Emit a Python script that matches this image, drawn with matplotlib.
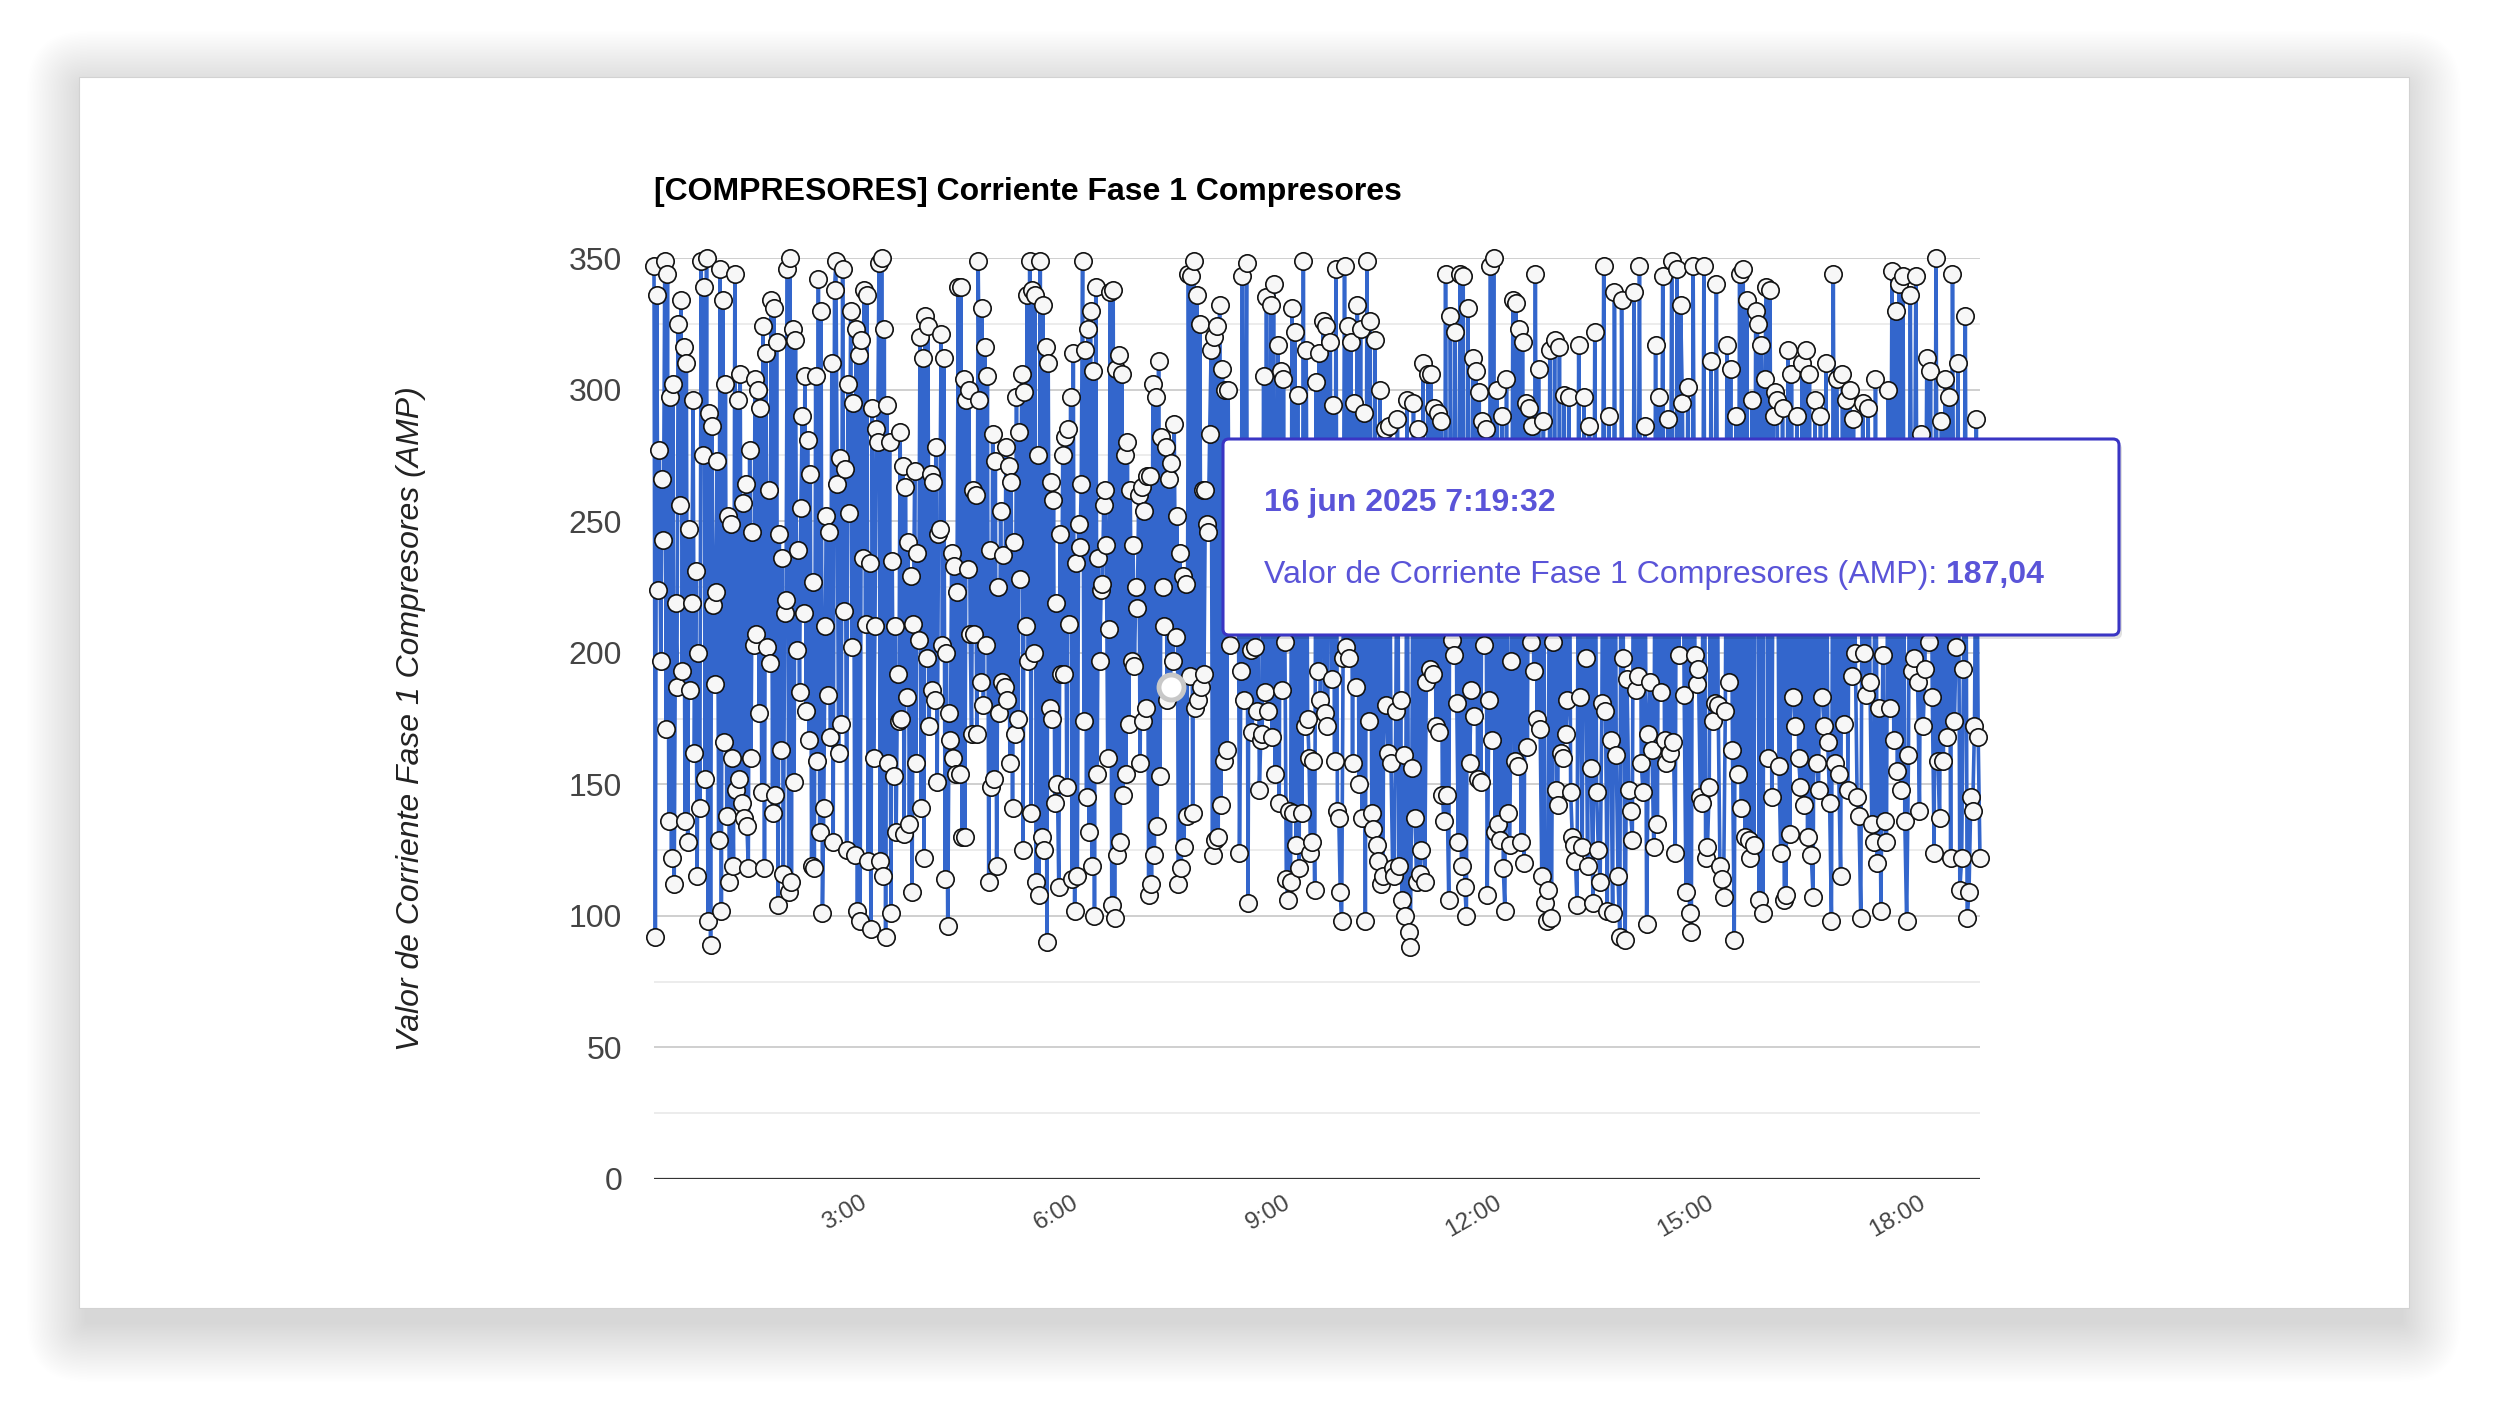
import numpy as np
import pandas as pd
import matplotlib
matplotlib.use("Agg")
import matplotlib.pyplot as plt
import matplotlib.dates as mdates
from matplotlib.patches import FancyBboxPatch, Rectangle
from matplotlib.ticker import MultipleLocator, FuncFormatter
from matplotlib.transforms import IdentityTransform

plt.rcParams['font.family'] = ['Liberation Sans', 'DejaVu Sans']

TITLE = "[COMPRESORES] Corriente Fase 1 Compresores"
Y_LABEL = "Valor de Corriente Fase 1 Compresores (AMP)"
DAY = "2025-06-16"

# readings (hours covered by each block)
block_hours = [0.0, 3.19, 6.47, 9.79, 13.11, 16.33, 18.80]

block1 = [347, 92, 336, 224, 277, 197, 266, 243,
          349, 171, 344, 136, 297, 122, 302, 112, 219, 187,
          325, 256, 334, 193, 316, 136, 310, 128, 247, 186, 219,
          296, 162, 231, 115, 200, 141, 349, 275,
          339, 152, 350, 98, 291, 89, 286, 218, 188, 223, 273, 129,
          346, 102, 334, 166, 302, 138, 252, 113, 249, 160, 119,
          344, 148, 296, 152, 306, 143, 257, 137, 264, 134, 118, 277, 160, 246, 203,
          304, 207, 300, 177, 293, 147, 324, 118, 314, 202, 262, 196,
          334, 139, 331, 146, 318, 104, 245, 163, 236, 116, 215, 220,
          346, 109, 350, 113, 323, 151, 319, 201, 239, 185, 255, 290, 215,
          305, 178, 281, 167, 268, 119, 227, 118, 305, 159, 342, 132, 330, 101,
          141, 210, 252, 184, 246, 168, 310, 128, 338, 349,
          264, 162, 274, 173, 346, 216, 270, 125, 302, 253, 330, 202,
          295, 123, 323, 102, 313, 98, 319, 236, 338, 211, 336, 121, 234, 95,
          293, 160, 210, 285, 280]

block2 = [348, 121, 350, 115, 323, 92, 294, 158, 280, 101, 235, 153, 210, 132, 192, 174,
          284, 175, 271, 131, 263, 183, 242, 135, 229, 109, 211, 269, 158, 238, 205,
          320, 141, 312, 122, 328, 198, 324, 172, 268, 186, 265, 182, 278, 151, 245, 247,
          321, 203, 312, 114, 200, 96, 177, 167, 238, 160, 233, 154, 223,
          339, 154, 339, 130, 304, 130, 296, 232, 300, 207, 169, 262, 207, 260, 169, 349, 296,
          189, 331, 180, 316, 203, 305, 113, 239, 149, 283, 152, 273, 119, 225, 177,
          254, 189, 237, 187, 278, 182, 271, 158, 265, 141, 242, 169, 297, 175,
          284, 228, 306, 125, 299, 210, 336, 197, 349, 139, 338, 200, 336, 113, 275, 108,
          349, 130, 332, 125, 316, 90, 310, 179, 265, 175, 258, 143, 219, 150, 111,
          245, 192, 275, 192, 282, 149, 285, 211, 297, 114, 314, 102, 234, 115, 249, 240, 264,
          349, 174, 315, 145, 323, 132, 330, 119, 307, 100, 339, 154, 236, 197, 224, 226,
          256, 262, 241, 160, 209]

block3 = [337, 104, 338, 99, 308, 123, 313, 128, 306, 146, 275, 154, 280, 173, 262, 197,
          241, 195, 225, 217,
          260, 158, 263, 174, 254, 179, 267, 108, 267, 112, 302, 123, 297, 134, 311, 153,
          282, 225, 210,
          278, 182, 266, 188, 272, 197, 287, 206, 252, 112, 238, 118, 229, 126, 226, 138,
          344, 191, 343, 139, 349, 179, 336, 182, 325, 187, 262, 192, 262, 249, 246, 283,
          315, 123, 320, 129, 324, 130, 332, 142, 308, 159, 300, 163, 300, 203, 277, 210,
          275, 246, 254, 256, 124, 193,
          343, 182, 230, 348, 105, 265, 201, 170, 215, 202, 178, 250, 148, 167, 169,
          305, 185, 335, 178, 240, 332, 168, 340, 154, 222, 317, 143, 307, 186, 304, 204,
          114, 106, 140, 113,
          331, 139, 322, 127, 298, 118, 258, 139, 349, 172, 315, 175, 160, 124, 128, 159, 110,
          303, 193, 314, 182, 236, 326, 177, 324, 172, 270, 318, 190, 294, 159, 346, 140,
          137, 109, 98, 198]

block4 = [347, 202, 324, 198, 318, 158, 295, 187, 332, 150, 323, 137, 291, 98,
          349, 174, 326, 139, 133, 319, 127, 121, 300, 112, 115, 285, 180, 162, 286, 158, 118, 115,
          178, 289, 119, 182, 106, 161, 100, 296, 94, 88, 156, 295, 137, 113, 285, 116, 125,
          310, 113, 189, 306, 194,
          306, 192, 293, 172, 291, 170, 288, 146, 136, 344, 146, 106, 328, 205, 199, 322, 181, 128,
          344, 119, 343, 111, 100, 331, 158, 186, 312, 176, 307, 152, 299, 151, 288, 203, 285, 108,
          182, 347, 167, 350, 132, 300, 135, 129, 290, 118, 102, 304, 139, 127, 197,
          334, 159, 333, 157, 323, 128, 318, 120, 295, 164, 293, 204, 286, 193, 344, 175, 308,
          171, 115, 288, 105, 98, 110,
          315, 99, 204, 319, 148, 142, 316, 162, 160, 298, 169, 182, 297, 147, 130, 127, 121, 104]

block5 = [317, 183, 126, 297, 198, 119, 286, 156, 105, 322, 147, 125, 113, 181,
          347, 178, 102, 290, 167, 101, 337, 161, 115, 92, 334, 198, 91, 190, 148, 140,
          129, 337, 186, 191, 347, 158, 147, 286, 97, 169, 189, 163, 126, 317,
          135, 297, 185, 343, 167, 158, 289, 162, 349, 166, 124, 346, 199, 332, 295,
          184, 109, 301, 101, 94, 347, 199, 188, 194, 145, 143, 347, 122, 126, 149, 311,
          174, 181, 340, 180, 119, 114, 107,
          178, 317, 189, 308, 163, 91, 290, 154, 344, 141, 346, 130, 334, 129, 122,
          296, 127, 330, 325, 106, 317, 101, 304, 339, 160, 338, 145, 290, 299,
          296, 157, 124, 293, 106, 108, 315, 131, 306, 183, 172, 290, 160, 149, 310, 142]

block6 = [315, 130, 306, 123, 107, 296, 158, 148, 290, 183, 172, 310, 166, 143, 98,
          344, 158, 304, 154, 115, 306, 173, 296, 148, 300, 191, 289, 200,
          145, 138, 99, 295, 200, 184, 293, 189, 135, 128, 304, 120, 179, 102, 199, 136, 128,
          300, 179, 345, 167, 330, 155, 340, 148, 343, 136, 98, 161, 336, 193, 198,
          343, 189, 140, 283, 172, 194, 312, 204, 307, 183, 124, 350, 159, 137, 288, 159,
          304, 168, 297, 122,
          344, 174, 202, 310, 110, 122, 194, 328, 99, 109, 145, 140, 172, 289, 168, 122]

blocks = [block1, block2, block3, block4, block5, block6]

# hovered point shown in the tooltip
hover_time = "2025-06-16 07:19:32"
hover_value = 187.04
hover_date_label = "16 jun 2025 7:19:32"
hover_series_label = "Valor de Corriente Fase 1 Compresores (AMP): "
hover_value_label = "187,04"

W, H = 2500, 1409
base = pd.Timestamp(DAY)

times, values = [], []
for k, blk in enumerate(blocks):
    last = k == len(blocks) - 1
    hrs = np.linspace(block_hours[k], block_hours[k + 1], len(blk), endpoint=last)
    times.extend(base + pd.to_timedelta(hrs, unit="h"))
    values.extend(blk)
times.append(pd.Timestamp(hover_time))
values.append(hover_value)
df = pd.DataFrame({"t": times, "v": values}).sort_values("t")

fig = plt.figure(figsize=(W / 100, H / 100), dpi=100)
fig.patch.set_facecolor("white")

# card with soft shadow (pixel coordinates)
px = IdentityTransform()
cx0, cx1 = 79, 2409
cy0, cy1 = H - 1308, H - 77
for i in range(1, 41):
    pad = i * 1.5
    fig.add_artist(FancyBboxPatch((cx0 - pad + 8, cy0 - pad - 14), (cx1 - cx0) + 2 * pad - 16,
                                  (cy1 - cy0) + 2 * pad, transform=px,
                                  boxstyle=f"round,pad=0,rounding_size={pad:.1f}",
                                  fc="black", ec="none", alpha=0.0036, zorder=-3))
fig.add_artist(Rectangle((cx0, cy0), cx1 - cx0, cy1 - cy0, transform=px,
                         fc="white", ec="#d2d2d2", lw=0.8, zorder=-2))

ax_l, ax_r, ax_t, ax_b = 654, 1980, 258, 1179
ax = fig.add_axes([ax_l / W, 1 - ax_b / H, (ax_r - ax_l) / W, (ax_b - ax_t) / H])
ax.set_facecolor("none")

ax.plot(df["t"], df["v"], color="#3366cc", lw=2.6, marker="o", ms=12.5,
        mfc="#f7f7f7", mec="#111111", mew=1.2, clip_on=False, zorder=3)
# highlighted (hovered) point
ax.plot([pd.Timestamp(hover_time)], [hover_value], marker="o", ms=18,
        mfc="white", mec="#c8c8c8", mew=3.5, ls="none", clip_on=False, zorder=4)

ax.set_ylim(0, 350)
ax.set_xlim(base, base + pd.Timedelta(hours=block_hours[-1]))

ax.yaxis.set_major_locator(MultipleLocator(50))
ax.yaxis.set_minor_locator(MultipleLocator(25))
ax.grid(which="major", axis="y", color="#cccccc", lw=1.3, zorder=0)
ax.grid(which="minor", axis="y", color="#ebebeb", lw=1.3, zorder=0)
ax.grid(False, axis="x")
for s in ax.spines.values():
    s.set_visible(False)
ax.axhline(0, color="#333333", lw=1.6, zorder=2)

ax.tick_params(axis="y", which="both", length=0, labelsize=23, labelcolor="#444444", pad=23)
ax.tick_params(axis="x", which="both", length=0, labelsize=17.5, labelcolor="#444444", pad=16)

ax.xaxis.set_major_locator(mdates.HourLocator(byhour=range(3, 19, 3)))
ax.xaxis.set_major_formatter(FuncFormatter(lambda x, p: f"{mdates.num2date(x).hour}:00"))
plt.setp(ax.get_xticklabels(), rotation=30, ha="right", va="center", rotation_mode="anchor")

ax.set_ylabel(Y_LABEL, fontsize=23, style="italic", color="#222222")
ax.yaxis.set_label_coords((426 - ax_l) / (ax_r - ax_l), 0.5)

fig.text(ax_l, H - 192, TITLE, transform=px, fontsize=23, fontweight="bold",
         ha="left", va="center", color="black")

# tooltip
tx0, tx1 = 1223, 2119
ty0, ty1 = H - 635, H - 439
fig.add_artist(FancyBboxPatch((tx0 + 3, ty0 - 4), tx1 - tx0, ty1 - ty0,
                              boxstyle="round,pad=0,rounding_size=6", transform=px,
                              fc="black", ec="none", alpha=0.12, zorder=9))
fig.add_artist(FancyBboxPatch((tx0, ty0), tx1 - tx0, ty1 - ty0,
                              boxstyle="round,pad=0,rounding_size=6", transform=px,
                              fc="white", ec="#3a35c4", lw=2.2, zorder=10))
tip_color = "#5a54d8"
fig.text(1264, H - 503, hover_date_label, transform=px, fontsize=23, fontweight="bold",
         color=tip_color, ha="left", va="center", zorder=11)
t2 = fig.text(1264, H - 575, hover_series_label, transform=px, fontsize=23,
              color=tip_color, ha="left", va="center", zorder=11)
fig.canvas.draw()
ext = t2.get_window_extent()
fig.text(ext.x1, H - 575, hover_value_label, transform=px, fontsize=23, fontweight="bold",
         color=tip_color, ha="left", va="center", zorder=11)

fig.savefig("out.png", dpi=100, facecolor="white")
